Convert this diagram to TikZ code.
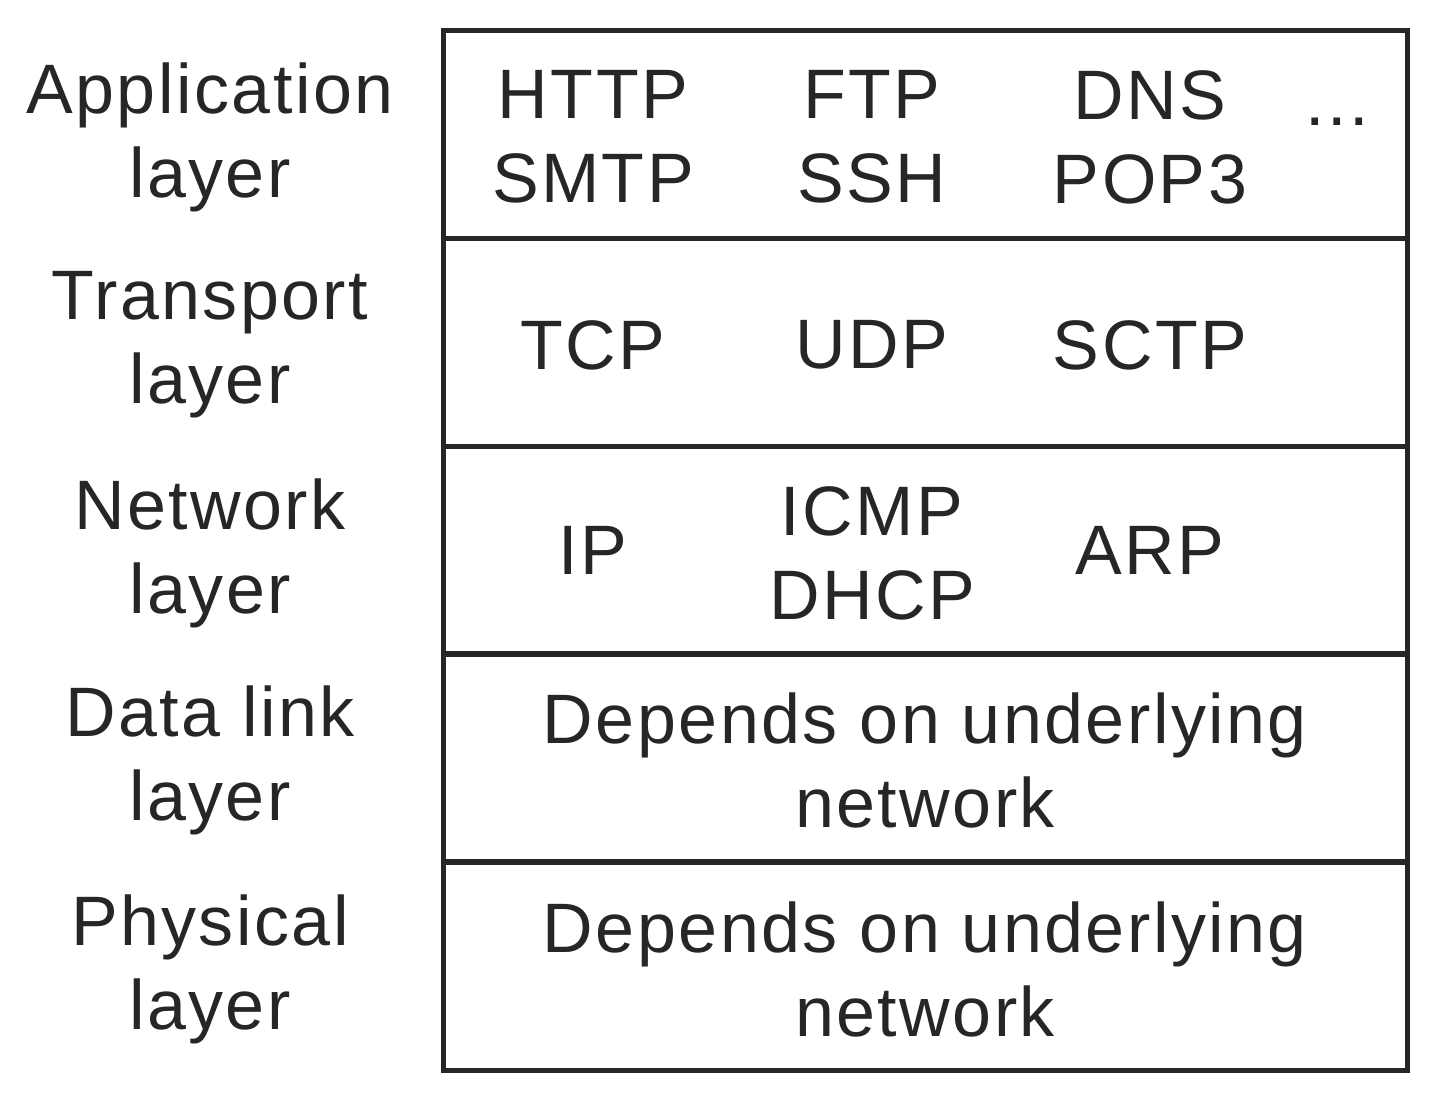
\documentclass[tikz,border=0pt]{standalone}
\usepackage{fontspec}
\setmainfont[LetterSpace=3.5]{Liberation Sans}
\begin{document}
\begin{tikzpicture}[x=0.5pt,y=-0.5pt,
  lbl/.style={font=\fontsize{35}{42}\selectfont,align=center,inner sep=0pt,text=black!85},
  cell/.style={draw=black!85,line width=2.5pt,minimum width=482pt,minimum height=104pt,inner sep=0pt}]
\useasboundingbox (0,0) rectangle (1440,1105);
\node[cell] (r1) at (925,134) {};
\node[cell] (r2) at (925,342) {};
\node[cell] (r3) at (925,550) {};
\node[cell] (r4) at (925,757) {};
\node[cell] (r5) at (925,966) {};
\node[lbl] (l1) at (210,137) {Application\\layer};
\node[lbl] (l2) at (210,345) {Transport\\layer};
\node[lbl] (l3) at (210,553) {Network\\layer};
\node[lbl] (l4) at (210,760) {Data link\\layer};
\node[lbl] (l5) at (210,969) {Physical\\layer};
\node[lbl] (a1) at (593,137) {HTTP\\SMTP};
\node[lbl] (a2) at (872,137) {FTP\\SSH};
\node[lbl] (a3) at (1150,137) {DNS\\POP3};
\node[lbl] (a4) at (1337,122) {...};
\node[lbl] (t1) at (593,345) {TCP};
\node[lbl] (t2) at (872,345) {UDP};
\node[lbl] (t3) at (1150,345) {SCTP};
\node[lbl] (n1) at (593,550) {IP};
\node[lbl] (n2) at (872,553) {ICMP\\DHCP};
\node[lbl] (n3) at (1150,550) {ARP};
\node[lbl] (d1) at (925,760) {Depends on underlying\\network};
\node[lbl] (p1) at (925,969) {Depends on underlying\\network};
\end{tikzpicture}
\end{document}
